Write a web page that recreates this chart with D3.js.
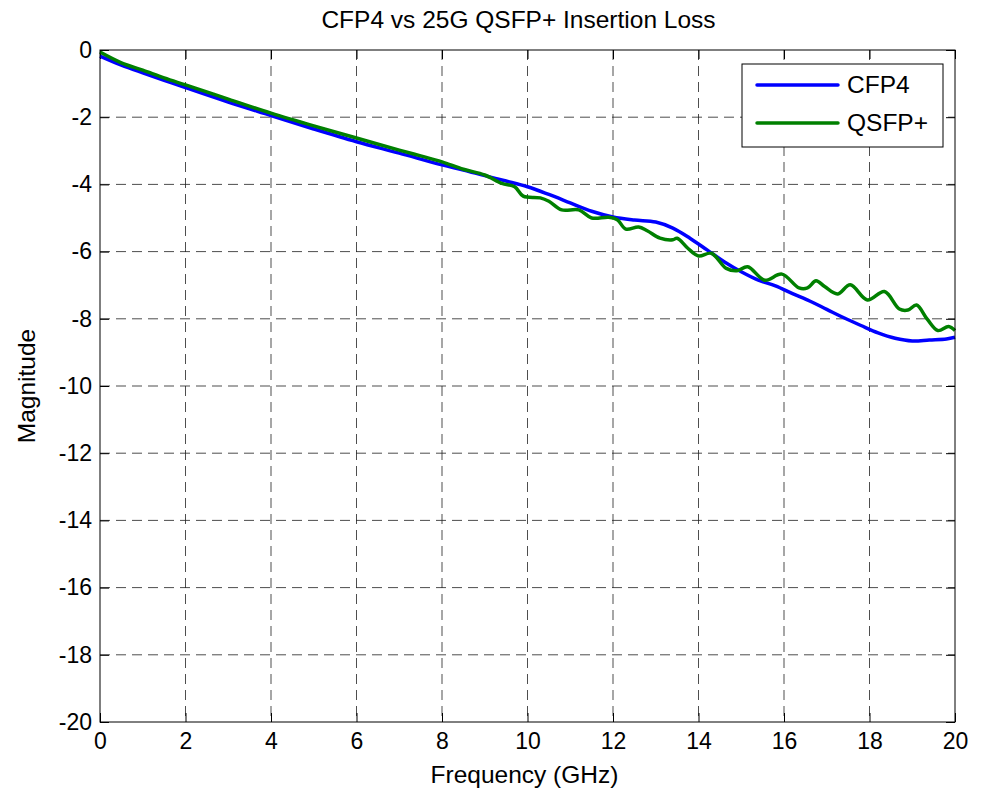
<!DOCTYPE html>
<html>
<head>
<meta charset="utf-8">
<script src="https://cdn.jsdelivr.net/npm/d3@7"></script>
<style>
  html, body { margin: 0; padding: 0; background: #ffffff; }
  svg { display: block; font-family: "Liberation Sans", Arial, sans-serif; }
</style>
</head>
<body>
<svg id="chart" width="982" height="790"></svg>
<script>
// ---------- data ----------
const chartTitle = "CFP4 vs 25G QSFP+ Insertion Loss";
const xLabel = "Frequency (GHz)";
const yLabel = "Magnitude";
const xTicks = [0, 2, 4, 6, 8, 10, 12, 14, 16, 18, 20];
const yTicks = [0, -2, -4, -6, -8, -10, -12, -14, -16, -18, -20];
const seriesNames = ["CFP4", "QSFP+"];
const seriesColors = ["#0000ff", "#008000"];

const freqCFP4 = [0, 0.5, 1, 1.5, 2, 3, 4, 5, 6, 7, 8, 8.5, 9, 9.5, 10, 10.5, 11, 11.5, 12, 12.5, 13, 13.4, 13.8, 14.2, 14.6, 15, 15.4, 15.8, 16.2, 16.6, 17, 17.4, 17.8, 18.2, 18.6, 19, 19.4, 19.8, 20];
const magCFP4 = [-0.18, -0.45, -0.68, -0.9, -1.12, -1.55, -1.95, -2.35, -2.73, -3.07, -3.42, -3.57, -3.74, -3.9, -4.07, -4.3, -4.55, -4.8, -4.97, -5.06, -5.12, -5.3, -5.6, -5.95, -6.3, -6.6, -6.85, -7.02, -7.25, -7.47, -7.72, -7.97, -8.2, -8.42, -8.58, -8.66, -8.63, -8.6, -8.55];

const freqQSFP = [0, 0.5, 1, 1.5, 2, 3, 4, 5, 6, 7, 7.5, 8, 8.5, 9, 9.4, 9.7, 9.9, 10.3, 10.5, 10.8, 11.2, 11.5, 11.9, 12.1, 12.3, 12.6, 12.8, 13.1, 13.4, 13.5, 13.75, 14, 14.3, 14.65, 14.9, 15.15, 15.55, 15.95, 16.35, 16.55, 16.75, 16.95, 17.25, 17.55, 17.95, 18.35, 18.7, 18.9, 19.1, 19.35, 19.6, 19.85, 20];
const magQSFP = [-0.06, -0.38, -0.6, -0.83, -1.04, -1.46, -1.88, -2.26, -2.62, -2.98, -3.15, -3.33, -3.55, -3.72, -3.97, -4.07, -4.35, -4.4, -4.5, -4.76, -4.76, -5.0, -4.98, -5.05, -5.33, -5.27, -5.38, -5.6, -5.65, -5.6, -5.9, -6.13, -6.05, -6.5, -6.57, -6.45, -6.85, -6.67, -7.08, -7.08, -6.87, -7.04, -7.26, -6.99, -7.44, -7.19, -7.71, -7.74, -7.59, -8.01, -8.35, -8.23, -8.35];

// ---------- layout ----------
const svg = d3.select("#chart");
const L = 100, R = 955, T = 50, B = 722;
const x = d3.scaleLinear().domain([0, 20]).range([L, R]);
const y = d3.scaleLinear().domain([-20, 0]).range([B, T]);
const tickFont = 23;
const labelFont = 24.5;
const fmt = d => String(d); // plain hyphen-minus like the original

// grid
const grid = svg.append("g");
xTicks.filter(t => t !== 0 && t !== 20).forEach(t => {
  grid.append("line").attr("x1", x(t)).attr("x2", x(t)).attr("y1", T).attr("y2", B)
    .attr("stroke", "#222").attr("stroke-width", 1).attr("stroke-dasharray", "10,6").attr("opacity", 0.8);
});
yTicks.filter(t => t !== 0 && t !== -20).forEach(t => {
  grid.append("line").attr("x1", L).attr("x2", R).attr("y1", y(t)).attr("y2", y(t))
    .attr("stroke", "#222").attr("stroke-width", 1).attr("stroke-dasharray", "10,6").attr("opacity", 0.8);
});

// axes (ticks inward on all four sides)
const tickLen = 9;
const xAxisB = d3.axisBottom(x).tickValues(xTicks).tickFormat(fmt).tickSizeInner(-tickLen).tickSizeOuter(0).tickPadding(11);
const xAxisT = d3.axisTop(x).tickValues(xTicks).tickSizeInner(-tickLen).tickSizeOuter(0).tickFormat("");
const yAxisL = d3.axisLeft(y).tickValues(yTicks).tickFormat(fmt).tickSizeInner(-tickLen).tickSizeOuter(0).tickPadding(8);
const yAxisR = d3.axisRight(y).tickValues(yTicks).tickSizeInner(-tickLen).tickSizeOuter(0).tickFormat("");

function styleAxis(g) {
  g.select(".domain").remove();
  g.selectAll("line").attr("stroke", "#000");
  g.selectAll("text").attr("fill", "#000").attr("font-size", tickFont)
    .attr("font-family", "'Liberation Sans', Arial, sans-serif");
}
svg.append("g").attr("transform", `translate(0,${B})`).call(xAxisB).call(styleAxis)
  .selectAll("text").attr("dy", "0.71em");
svg.append("g").attr("transform", `translate(0,${T})`).call(xAxisT).call(styleAxis);
svg.append("g").attr("transform", `translate(${L},0)`).call(yAxisL).call(styleAxis);
svg.append("g").attr("transform", `translate(${R},0)`).call(yAxisR).call(styleAxis);

// series lines
const seriesData = [
  freqCFP4.map((f, i) => [f, magCFP4[i]]),
  freqQSFP.map((f, i) => [f, magQSFP[i]])
];
const line = d3.line().x(d => x(d[0])).y(d => y(d[1])).curve(d3.curveCatmullRom.alpha(0.5));
const plot = svg.append("g");
seriesData.forEach((s, i) => {
  plot.append("path").datum(s).attr("d", line)
    .attr("fill", "none").attr("stroke", seriesColors[i]).attr("stroke-width", 3.5)
    .attr("stroke-linejoin", "round");
});

// box
svg.append("rect").attr("x", L).attr("y", T).attr("width", R - L).attr("height", B - T)
  .attr("fill", "none").attr("stroke", "#000").attr("stroke-width", 1);

// title & labels
svg.append("text").attr("x", (L + R) / 2 - 9).attr("y", 28).attr("text-anchor", "middle")
  .attr("font-size", labelFont).attr("fill", "#000").text(chartTitle);
svg.append("text").attr("x", (L + R) / 2 - 3).attr("y", 783).attr("text-anchor", "middle")
  .attr("font-size", labelFont).attr("fill", "#000").text(xLabel);
svg.append("text").attr("transform", `translate(35,${(T + B) / 2}) rotate(-90)`).attr("text-anchor", "middle")
  .attr("font-size", labelFont).attr("fill", "#000").text(yLabel);

// legend
const lg = svg.append("g");
lg.append("rect").attr("x", 742).attr("y", 64).attr("width", 201).attr("height", 83)
  .attr("fill", "#fff").attr("stroke", "#000").attr("stroke-width", 1);
seriesNames.forEach((name, i) => {
  const ly = 85 + i * 38;
  lg.append("line").attr("x1", 757).attr("x2", 838).attr("y1", ly).attr("y2", ly)
    .attr("stroke", seriesColors[i]).attr("stroke-width", 3.5).attr("stroke-linecap", "round");
  lg.append("text").attr("x", 847).attr("y", ly + 8).attr("font-size", labelFont)
    .attr("fill", "#000").text(name);
});
</script>
</body>
</html>
